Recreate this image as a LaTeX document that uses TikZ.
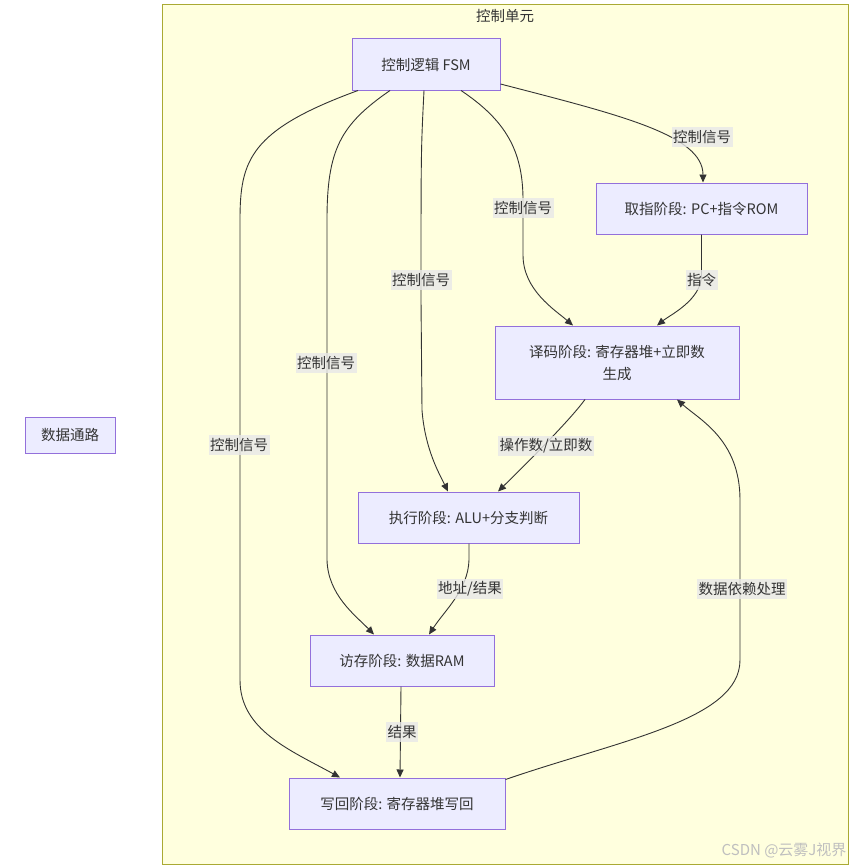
\documentclass[tikz,border=0pt]{standalone}
\usepackage{fontspec}
\setmainfont{Noto Sans CJK SC}
\usetikzlibrary{arrows.meta}
\definecolor{clfill}{HTML}{FFFFDE}
\definecolor{clline}{HTML}{AAAA33}
\definecolor{nfill}{HTML}{ECECFF}
\definecolor{nline}{HTML}{9370DB}
\definecolor{eline}{HTML}{333333}
\definecolor{lblbg}{HTML}{E8E8E8}
\definecolor{txt}{HTML}{333333}
\tikzset{
  box/.style={draw=nline, fill=nfill, line width=1pt, inner sep=0pt, align=center,
    text=txt, font=\fontsize{14.5pt}{22pt}\selectfont},
  lbl/.style={fill=lblbg, fill opacity=0.8, text opacity=1, text=txt, inner xsep=1.5pt, inner ysep=3pt,
    font=\fontsize{14.5pt}{17pt}\selectfont},
  edge/.style={draw=eline, line width=0.9pt, -{Triangle[length=8pt,width=7pt]}},
}
\begin{document}
\begin{tikzpicture}[x=1pt,y=-1pt]
\useasboundingbox (0,0) rectangle (852,867);
% cluster
\node[draw=clline, fill=clfill, line width=1pt, minimum width=686pt, minimum height=860pt, inner sep=0pt, anchor=north west] (cu) at (162,4) {};
\node[text=txt, font=\fontsize{14.5pt}{17pt}\selectfont] (cutitle) at (505,16) {控制单元};
% nodes
\node[box, minimum width=90pt, minimum height=36pt] (dp) at (70,435) {数据通路};
\node[box, minimum width=148pt, minimum height=51pt] (fsm) at (426,64.5) {控制逻辑 FSM};
\node[box, minimum width=211pt, minimum height=51pt] (qz) at (701.5,208.5) {取指阶段: PC+指令ROM};
\node[box, minimum width=244pt, minimum height=73pt] (ym) at (617,362.5) {译码阶段: 寄存器堆+立即数\\生成};
\node[box, minimum width=221pt, minimum height=51pt] (zx) at (468.5,517.5) {执行阶段: ALU+分支判断};
\node[box, minimum width=184pt, minimum height=51pt] (fc) at (402,660.5) {访存阶段: 数据RAM};
\node[box, minimum width=216pt, minimum height=51pt] (xh) at (397,803.5) {写回阶段: 寄存器堆写回};
% edges
\draw[edge] ([yshift=-19.5pt]fsm.east) .. controls (620,115) and (703,135) .. ([xshift=1.5pt]qz.north);
\draw[edge] ([xshift=35pt]fsm.south) .. controls (505,120) and (523,150) .. (523,200) -- (523,255) .. controls (523,290) and (555,310) .. ([xshift=-44pt]ym.north);
\draw[edge] ([xshift=-2pt]fsm.south) .. controls (421,150) .. (421,300) -- (422,410) .. controls (425,450) and (440,475) .. ([xshift=-20.5pt]zx.north);
\draw[edge] ([xshift=-36pt]fsm.south) .. controls (340,125) and (327,150) .. (327,220) -- (327,560) .. controls (328,595) and (355,615) .. ([xshift=-28pt]fc.north);
\draw[edge] ([xshift=-68pt]fsm.south) .. controls (250,130) and (240,160) .. (240,220) -- (240,680) .. controls (240,730) and (290,750) .. ([xshift=-57pt]xh.north);
\draw[edge] (qz.south) -- (701.5,275) .. controls (701.5,300) and (670,315) .. ([xshift=40pt]ym.north);
\draw[edge] ([xshift=-32pt]ym.south) .. controls (570,420) and (530,460) .. ([xshift=29.5pt]zx.north);
\draw[edge] ([xshift=0.5pt]zx.south) -- (469,560) .. controls (468,590) and (445,610) .. ([xshift=27pt]fc.north);
\draw[edge] ([xshift=-1pt]fc.south) -- ([xshift=3pt]xh.north);
\draw[edge] ([yshift=-2pt]xh.north east) .. controls (620,740) and (740,720) .. (740,660) -- (740,500) .. controls (740,440) and (700,420) .. ([xshift=60pt]ym.south);
% labels
\node[lbl] (l1) at (702,137) {控制信号};
\node[lbl] (l2) at (523,208) {控制信号};
\node[lbl] (l3) at (421,280) {控制信号};
\node[lbl] (l4) at (326,363) {控制信号};
\node[lbl] (l5) at (239,445) {控制信号};
\node[lbl] (l6) at (701.5,280) {指令};
\node[lbl] (l7) at (546,446) {操作数/立即数};
\node[lbl] (l8) at (470,589) {地址/结果};
\node[lbl] (l9) at (742,589) {数据依赖处理};
\node[lbl] (l10) at (402,732) {结果};
% watermark
\node[text=black!25, font=\fontsize{15pt}{17pt}\selectfont, anchor=east] (wm) at (850,851) {CSDN @云雾J视界};
\end{tikzpicture}
\end{document}
